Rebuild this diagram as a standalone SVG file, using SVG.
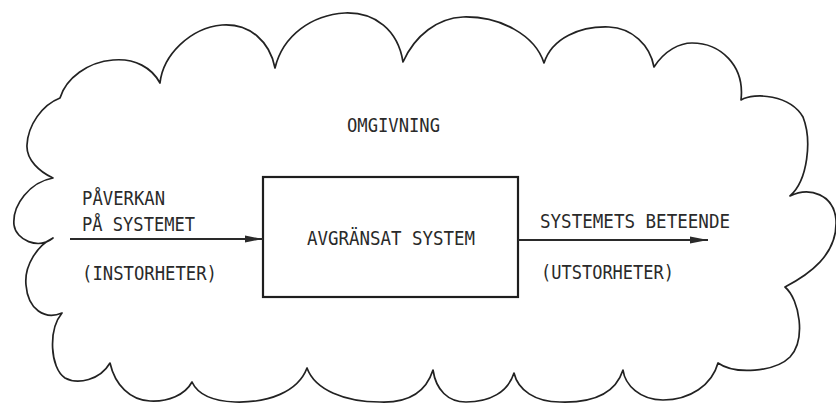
<svg xmlns="http://www.w3.org/2000/svg" width="836" height="405" viewBox="0 0 836 405">
  <style>
    .lbl { font-family: "DejaVu Sans Mono", "Liberation Mono", monospace; font-size: 20px; fill: #2a2a2a; }
    .cloud { fill: none; stroke: #222; stroke-width: 1.7; stroke-linejoin: round; }
    .box { fill: #fff; stroke: #1e1e1e; stroke-width: 2.2; }
    .flow { stroke: #2a2a2a; stroke-width: 2.2; fill: none; }
  </style>
  <defs>
    <marker id="head" markerUnits="userSpaceOnUse" markerWidth="20" markerHeight="10" refX="18" refY="4" orient="auto">
      <path d="M0,0.5 L18,4 L0,7.5 Z" fill="#2a2a2a"/>
    </marker>
  </defs>
  <rect width="836" height="405" fill="#fff"/>

  <!-- surroundings (cloud outline) -->
  <g id="omgivning">
    <path class="cloud" d="M60,98
      C66,78 88,62 113,60 C135,58 152,68 160,83
      C163,55 190,28 222,25 C250,23 270,42 275,68
      C283,35 312,15 345,13 C375,12 398,30 403,62
      C415,35 438,18 463,17 C500,16 535,35 544,63
      C552,38 580,26 609,27 C632,28 650,45 654,67
      C665,50 680,43 692,43 C720,43 745,65 741,100
      C755,92 790,95 803,117 C812,140 808,180 790,196
      C810,186 834,195 836,220 C838,255 808,275 785,287
      C800,300 806,340 790,357 C775,372 735,375 718,363
      C712,385 690,400 663,400 C640,400 625,385 623,370
      C615,395 590,403 560,402 C535,402 518,390 514,373
      C508,392 490,402 466,402 C448,402 436,390 433,370
      C425,395 405,403 380,402 C345,402 315,390 307,368
      C298,392 268,403 235,402 C212,401 198,395 192,382
      C185,395 168,402 150,401 C130,400 115,385 110,363
      C100,380 78,385 65,378 C50,368 48,330 62,313
      C45,320 28,310 26,285 C24,265 38,245 53,238
      C38,250 16,240 14,225 C12,205 30,182 53,178
      C40,172 26,160 27,145 C28,125 42,105 60,98 Z"/>
    <text class="lbl" x="347" y="132" textLength="93" lengthAdjust="spacingAndGlyphs">OMGIVNING</text>
  </g>

  <!-- bounded system -->
  <g id="system">
    <rect class="box" x="263" y="177" width="255" height="120"/>
    <text class="lbl" x="307" y="245" textLength="168" lengthAdjust="spacingAndGlyphs">AVGRÄNSAT SYSTEM</text>
  </g>

  <!-- input labels -->
  <g id="input">
    <text class="lbl" x="82" y="205" textLength="83" lengthAdjust="spacingAndGlyphs">PÅVERKAN</text>
    <text class="lbl" x="82" y="231" textLength="113" lengthAdjust="spacingAndGlyphs">PÅ SYSTEMET</text>
    <text class="lbl" x="82" y="280" textLength="135" lengthAdjust="spacingAndGlyphs">(INSTORHETER)</text>
  </g>

  <!-- output labels -->
  <g id="output">
    <text class="lbl" x="540" y="228" textLength="190" lengthAdjust="spacingAndGlyphs">SYSTEMETS BETEENDE</text>
    <text class="lbl" x="541" y="279" textLength="133" lengthAdjust="spacingAndGlyphs">(UTSTORHETER)</text>
  </g>

  <!-- connectors -->
  <g id="connectors">
    <line class="flow" x1="70" y1="239" x2="263" y2="239" marker-end="url(#head)"/>
    <line class="flow" x1="518" y1="240" x2="708" y2="240" marker-end="url(#head)"/>
  </g>
</svg>
